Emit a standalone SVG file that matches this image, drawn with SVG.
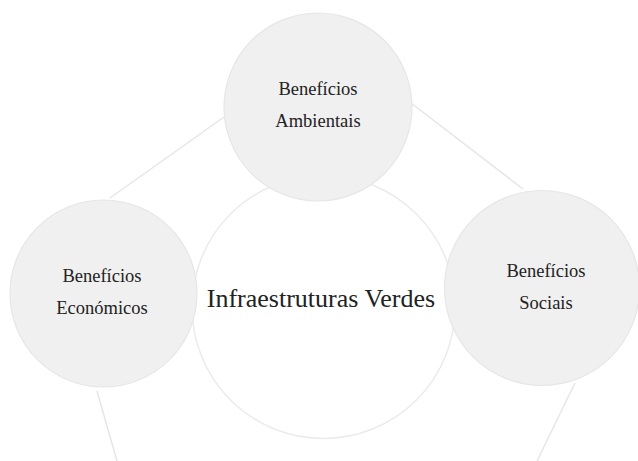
<svg xmlns="http://www.w3.org/2000/svg" width="638" height="461" viewBox="0 0 638 461">
<style>
.conn{stroke:#e6e6e6;stroke-width:1.5;fill:none}
.sat{fill:#f0f0f0;stroke:#e6e6e6;stroke-width:1.2}
.core{fill:#ffffff;stroke:#ebebeb;stroke-width:1.5}
.t{font-family:"Liberation Serif","DejaVu Serif",serif;fill:#222;text-anchor:middle}
.s{font-size:18.5px}
.b{font-size:26px}
</style>
<rect width="638" height="461" fill="#ffffff"/>
<g id="connectors">
<line class="conn" x1="110" y1="198" x2="224" y2="117"/>
<line class="conn" x1="411" y1="103" x2="523" y2="189"/>
<line class="conn" x1="97" y1="391" x2="117" y2="461"/>
<line class="conn" x1="575" y1="383" x2="537" y2="461"/>
</g>
<g id="infraestruturas-verdes">
<circle class="core" cx="323.5" cy="307" r="131.5"/>
</g>
<g id="beneficios-ambientais">
<circle class="sat" cx="318" cy="107" r="94"/>
<text class="t s" x="318" y="95">Benefícios</text>
<text class="t s" x="318" y="127">Ambientais</text>
</g>
<g id="beneficios-economicos">
<circle class="sat" cx="103.5" cy="293.5" r="93.5"/>
<text class="t s" x="102" y="282">Benefícios</text>
<text class="t s" x="102" y="314">Económicos</text>
</g>
<g id="beneficios-sociais">
<circle class="sat" cx="542" cy="288" r="97.5"/>
<text class="t s" x="546" y="277">Benefícios</text>
<text class="t s" x="546" y="309">Sociais</text>
</g>
<g id="core-label">
<text class="t b" x="321" y="307">Infraestruturas Verdes</text>
</g>
</svg>
